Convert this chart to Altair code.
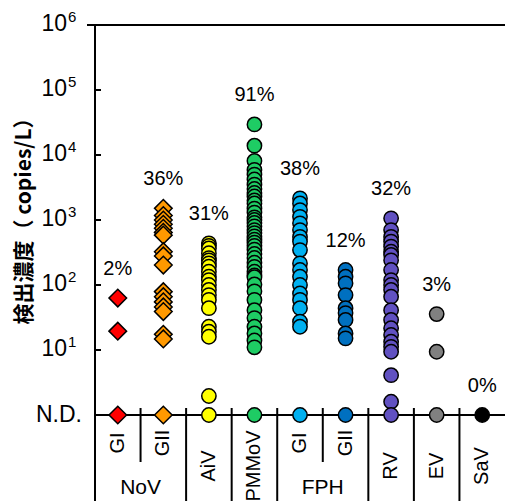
import altair as alt
import pandas as pd

# ---------------- data ----------------
keys = ["NoV GI", "NoV GII", "AiV", "PMMoV", "FPH GI", "FPH GII", "RV", "EV", "SaV"]
sublabels = ["GI", "GII", "AiV", "PMMoV", "GI", "GII", "RV", "EV", "SaV"]
in_group = [True, True, False, False, True, True, False, False, False]
group_names = ["NoV", "FPH"]
group_second_keys = ["NoV GII", "FPH GII"]
percents = ["2%", "36%", "31%", "91%", "38%", "12%", "32%", "3%", "0%"]
colors = ["#FF0000", "#FF9900", "#FFFF00", "#1ECC64", "#00B0F0", "#0070C0",
          "#6151C1", "#808080", "#000000"]
shapes = ["diamond", "diamond", "circle", "circle", "circle", "circle",
          "circle", "circle", "circle"]

ND = 1  # not detected
nov_gi = [63, 19.5, ND]
nov_gii = [1510, 1170, 1000, 860, 745, 645, 585, 325, 280, 203, 79, 66, 55, 46, 39,
           17.4, 14.8, ND]
aiv = [437, 400, 365, 308, 259, 240, 215, 191, 160, 134, 119, 100, 84, 70, 59, 44,
       22.8, 19.1, 16, 1.96, ND]
pmmov = [29500, 13900, 8100, 5900, 5000, 4200, 3500, 3000, 2600, 2300, 2000, 1800,
         1500, 1300, 1100, 1000, 900, 800, 700, 630, 560, 500, 450, 400, 350, 300,
         260, 220, 190, 160, 140, 132, 102, 80, 59, 41, 31, 22.8, 18, 14, 11, ND]
fph_gi = [2150, 1800, 1420, 1120, 890, 700, 550, 465, 345, 215, 170, 134, 100, 74,
          59, 44, 27.3, 22.8, ND]
fph_gii = [170, 134, 106, 70, 44, 37, 29, 18, 15.1, ND]
rv = [1060, 700, 550, 465, 390, 325, 290, 240, 170, 119, 100, 84, 66, 41, 29, 21.6,
      17, 13.4, 11.2, 9.4, 4.1, 1.6, ND]
ev = [35.7, 9.4, ND]
sav = [ND]
series = [nov_gi, nov_gii, aiv, pmmov, fph_gi, fph_gii, rv, ev, sav]

tick_values = [1, 10, 100, 1000, 10000, 100000, 1000000]
tick_exponents = ["", "1", "2", "3", "4", "5", "6"]
y_title = "検出濃度（ copies/L）"

# ---------------- tables ----------------
pts = pd.DataFrame([
    {"key": k, "value": v, "shape": s}
    for k, vals, s in zip(keys, series, shapes) for v in vals
])
lab = pd.DataFrame({
    "key": keys,
    "pct": percents,
    "ly": [max(v) * 10 ** 0.45 for v in series],
})
cats = pd.DataFrame({"key": keys, "sub": sublabels, "ingroup": in_group})
grp = pd.DataFrame({"key": group_second_keys, "name": group_names})
short_sep = pd.DataFrame({"key": group_second_keys})
long_sep = pd.DataFrame({"key": [k for k in keys
                                 if k not in group_second_keys and k != keys[0]]})
ticks = pd.DataFrame({"t": tick_values, "e": tick_exponents})
ticks_pow = ticks[ticks["t"] > 1]
ticks_nd = ticks[ticks["t"] == 1]
title_df = pd.DataFrame({"title": [y_title]})

FONT = "Liberation Sans"
W, H = 410, 390

xscale = alt.Scale(domain=keys, paddingInner=0, paddingOuter=0)
yscale = alt.Scale(type="log", domain=[1, 1e6])

X = alt.X("key:N", scale=xscale, axis=None)

# main points
points = alt.Chart(pts).mark_point(filled=True, stroke="black", strokeWidth=1.5,
                                   opacity=1).encode(
    x=X,
    y=alt.Y("value:Q", scale=yscale,
            axis=alt.Axis(values=tick_values, labels=False, tickSize=8, tickWidth=2,
                          tickColor="black", domainColor="black", domainWidth=2,
                          grid=False, title=None)),
    color=alt.Color("key:N", scale=alt.Scale(domain=keys, range=colors), legend=None),
    shape=alt.Shape("shape:N", scale=alt.Scale(domain=["diamond", "circle"],
                                               range=["diamond", "circle"]),
                    legend=None),
    size=alt.Size("shape:N", scale=alt.Scale(domain=["diamond", "circle"],
                                             range=[310, 205]), legend=None),
)

# percentage labels
pct = alt.Chart(lab).mark_text(font=FONT, fontSize=20, baseline="middle",
                               color="black").encode(
    x=X, y=alt.Y("ly:Q", scale=yscale, axis=None), text="pct:N")

# y labels
lbl10 = alt.Chart(ticks_pow).mark_text(font=FONT, fontSize=23, align="right",
                                       baseline="middle", dy=-1,
                                       color="black").encode(
    x=alt.value(-28), y=alt.Y("t:Q", scale=yscale, axis=None), text=alt.value("10"))
lblexp = alt.Chart(ticks_pow).mark_text(font=FONT, fontSize=15, align="left",
                                        baseline="middle", dy=-8,
                                        color="black").encode(
    x=alt.value(-27), y=alt.Y("t:Q", scale=yscale, axis=None), text="e:N")
lblnd = alt.Chart(ticks_nd).mark_text(font=FONT, fontSize=23, align="right",
                                      baseline="middle", color="black").encode(
    x=alt.value(-13), y=alt.Y("t:Q", scale=yscale, axis=None), text=alt.value("N.D."))
inticks = alt.Chart(ticks).mark_rule(color="black", strokeWidth=2).encode(
    x=alt.value(0), x2=alt.value(6), y=alt.Y("t:Q", scale=yscale, axis=None))

# y title
ytitle = alt.Chart(title_df).mark_text(font="Noto Sans CJK JP", fontSize=21,
                                       fontWeight="bold", angle=270, align="center",
                                       baseline="middle", color="black").encode(
    x=alt.value(-70), y=alt.value(H / 2 - 4), text="title:N")

# frame lines
top_line = alt.Chart(ticks_nd).mark_rule(color="black", strokeWidth=2).encode(
    x=alt.value(-8), x2=alt.value(W), y=alt.value(0))
bottom_line = alt.Chart(ticks_nd).mark_rule(color="black", strokeWidth=2).encode(
    x=alt.value(0), x2=alt.value(W), y=alt.value(H))
left_ext = alt.Chart(ticks_nd).mark_rule(color="black", strokeWidth=2).encode(
    x=alt.value(0), y=alt.value(0), y2=alt.value(H + 90))

XB = alt.X("key:N", scale=xscale, axis=None, bandPosition=0)
sep_long = alt.Chart(long_sep).mark_rule(color="black", strokeWidth=2).encode(
    x=XB, y=alt.value(H - 7), y2=alt.value(H + 90))
sep_short = alt.Chart(short_sep).mark_rule(color="black", strokeWidth=2).encode(
    x=XB, y=alt.value(H - 7), y2=alt.value(H + 47))

# category labels
sub_in = alt.Chart(cats).transform_filter("datum.ingroup").mark_text(
    font=FONT, fontSize=20, angle=270, align="center", baseline="middle",
    color="black").encode(x=X, y=alt.value(H + 28), text="sub:N")
sub_out = alt.Chart(cats).transform_filter("!datum.ingroup").mark_text(
    font=FONT, fontSize=20, angle=270, align="center", baseline="middle",
    color="black").encode(x=X, y=alt.value(H + 51), text="sub:N")
grp_lbl = alt.Chart(grp).mark_text(font=FONT, fontSize=21, align="center",
                                   baseline="middle", color="black").encode(
    x=XB, y=alt.value(H + 73), text="name:N")

chart = alt.layer(
    sep_long, sep_short, left_ext, top_line, bottom_line, inticks,
    lbl10, lblexp, lblnd, ytitle, sub_in, sub_out, grp_lbl, pct, points,
).resolve_scale(x="shared", y="shared").properties(
    width=W, height=H,
    padding={"left": 95, "top": 25, "right": 0, "bottom": 86},
    autosize=alt.AutoSizeParams(type="none"),
    background="white",
).configure_view(stroke=None)

chart.save("out.html", embed_options={"renderer": "svg", "actions": False})
